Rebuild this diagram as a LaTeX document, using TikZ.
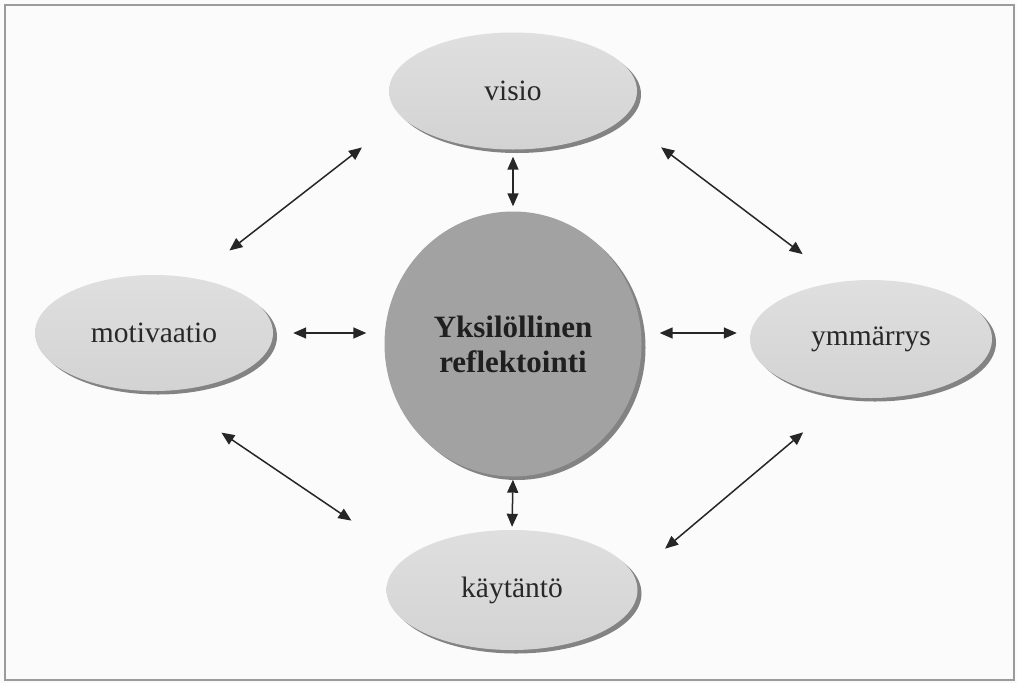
\documentclass[tikz,border=0pt]{standalone}
\usepackage{fontspec}
\setmainfont{Liberation Serif}
\usetikzlibrary{shapes.geometric,shadows,arrows.meta}

\definecolor{ovaltop}{RGB}{223,223,223}
\definecolor{ovalbottom}{RGB}{211,211,211}
\definecolor{corefill}{RGB}{162,162,162}
\definecolor{shadowgray}{RGB}{110,110,110}
\definecolor{frameline}{RGB}{155,155,155}
\definecolor{labeltext}{RGB}{40,40,40}
\definecolor{paper}{RGB}{251,251,251}

\tikzset{
  oval/.style={ellipse, inner sep=0pt, draw=none,
    top color=ovaltop, bottom color=ovalbottom,
    drop shadow={shadow xshift=4pt, shadow yshift=-3.5pt, fill=shadowgray, opacity=0.85},
    font=\fontsize{29.5}{32}\selectfont, text=labeltext},
  core/.style={ellipse, inner sep=0pt, draw=none, fill=corefill, align=center,
    drop shadow={shadow xshift=4pt, shadow yshift=-3.5pt, fill=shadowgray, opacity=0.85},
    font=\fontsize{31}{35}\selectfont\bfseries, text=black!88},
  link/.style={{Triangle[length=13pt,width=11pt]}-{Triangle[length=13pt,width=11pt]},
    line width=1.5pt, draw=black!85}
}

\begin{document}
\begin{tikzpicture}[x=1pt, y=-1pt]
  % page and frame
  \fill[paper] (0,0) rectangle (1017,683);
  \useasboundingbox (0,0) rectangle (1017,683);
  \draw[frameline, line width=2.2pt] (5,5) rectangle (1014,680);

  % ovals around the centre
  \node[oval, minimum width=248pt, minimum height=117pt] (visio) at (513,91) {visio};
  \node[oval, minimum width=238pt, minimum height=116pt] (moti) at (154,333) {motivaatio};
  \node[oval, minimum width=242pt, minimum height=118pt] (ymm) at (871,339) {ymmärrys};
  \node[oval, minimum width=251pt, minimum height=120pt] (kayt) at (512,590) {käytäntö};

  % centre
  \node[core, minimum width=257pt, minimum height=265pt] (core) at (513,344)
    {Yksilöllinen\\reflektointi};

  % links to the centre
  \draw[link, shorten <=7pt, shorten >=5pt] (visio.south) -- (core.north);
  \draw[link, shorten <=3pt, shorten >=3pt] (core.south) -- (kayt.north);
  \draw[link, shorten <=20pt, shorten >=18pt] (moti.east) -- (moti.east -| core.west);
  \draw[link, shorten <=18pt, shorten >=13pt] (core.east |- moti.east) -- (ymm.west |- moti.east);

  % links around the ring
  \draw[link, shorten <=45pt, shorten >=50pt] (moti.54) -- (visio.193);
  \draw[link, shorten <=48pt, shorten >=46pt] (visio.346) -- (ymm.119);
  \draw[link, shorten <=74pt, shorten >=66pt] (moti.276) -- (kayt.163);
  \draw[link, shorten <=41pt, shorten >=55pt] (kayt.7.5) -- (ymm.246.7);
\end{tikzpicture}
\end{document}
